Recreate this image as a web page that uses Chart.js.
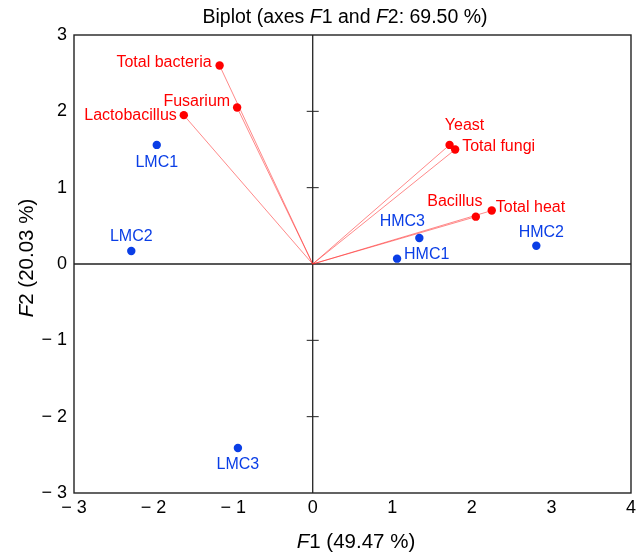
<!DOCTYPE html>
<html><head><meta charset="utf-8">
<script src="https://cdn.jsdelivr.net/npm/chart.js@4.4.1/dist/chart.umd.min.js"></script>
<style>html,body{margin:0;padding:0;background:#fff}#wrap{width:640px;height:553px}</style>
</head><body><div id="wrap"><canvas id="c" width="640" height="553"></canvas></div>
<script>
// ---- data ----
const obsNames = ['LMC1','LMC2','LMC3','HMC1','HMC2','HMC3'];
const obsF1 = [-1.96, -2.28, -0.94, 1.06, 2.81, 1.34];
const obsF2 = [1.56, 0.17, -2.41, 0.07, 0.24, 0.34];
const varNames = ['Total bacteria','Fusarium','Lactobacillus','Yeast','Total fungi','Bacillus','Total heat'];
const varF1 = [-1.17, -0.95, -1.62, 1.72, 1.79, 2.05, 2.25];
const varF2 = [2.60, 2.05, 1.95, 1.56, 1.50, 0.62, 0.70];
const xTicks = [-3,-2,-1,0,1,2,3,4];
const yTicks = [-3,-2,-1,0,1,2,3];

// ---- label placement (style) ----
const obsLabelPos = {LMC1:[0,18,'center'],LMC2:[0,-14,'center'],LMC3:[0,17,'center'],HMC1:[7,-4,'left'],HMC2:[5,-13,'center'],HMC3:[-17,-16,'center']};
const varLabelPos = {'Total bacteria':[-8,-3,'right'],'Fusarium':[-7,-6,'right'],'Lactobacillus':[-7,0,'right'],'Yeast':[15,-19,'center'],'Total fungi':[7,-3,'left'],'Bacillus':[-21,-15,'center'],'Total heat':[4,-3,'left']};

const RED = '#ff0000', BLUE = '#0a3ee6';
const FONT = '"Liberation Sans", Arial, Helvetica, sans-serif';

const datasets = [];
varNames.forEach((n,i)=>{
  datasets.push({label:n+' vector', data:[{x:0,y:0},{x:varF1[i],y:varF2[i]}], showLine:true,
    borderColor:'rgba(255,40,40,0.55)', borderWidth:1, pointRadius:0, order:5});
});
datasets.push({label:'Variables', data:varF1.map((x,i)=>({x,y:varF2[i]})), backgroundColor:RED, borderColor:RED, pointRadius:4.2, borderWidth:0, order:1});
datasets.push({label:'Observations', data:obsF1.map((x,i)=>({x,y:obsF2[i]})), backgroundColor:BLUE, borderColor:BLUE, pointRadius:4.2, borderWidth:0, order:1});

function drawMixed(ctx, parts, x, y, size, align){
  let w=0;
  parts.forEach(p=>{ctx.font=(p[1]?'italic ':'')+size+'px '+FONT; w+=ctx.measureText(p[0]).width;});
  let cx = align==='center'? x-w/2 : x;
  ctx.textAlign='left';
  parts.forEach(p=>{ctx.font=(p[1]?'italic ':'')+size+'px '+FONT; ctx.fillText(p[0],cx,y); cx+=ctx.measureText(p[0]).width;});
}

const deco = {
  id:'deco',
  beforeDatasetsDraw(chart){
    const {ctx, chartArea:a, scales:{x,y}} = chart;
    ctx.save();
    ctx.strokeStyle='#222'; ctx.lineWidth=1.4;
    ctx.strokeRect(a.left, a.top, a.right-a.left, a.bottom-a.top);
    const x0=x.getPixelForValue(0), y0=y.getPixelForValue(0);
    ctx.lineWidth=1.3;
    ctx.beginPath(); ctx.moveTo(x0,a.top); ctx.lineTo(x0,a.bottom); ctx.moveTo(a.left,y0); ctx.lineTo(a.right,y0); ctx.stroke();
    ctx.lineWidth=1;
    ctx.beginPath();
    yTicks.forEach(v=>{ if(v===0||v===3||v===-3) return; const py=y.getPixelForValue(v); ctx.moveTo(x0-6,py); ctx.lineTo(x0+6,py);});
    ctx.stroke();
    ctx.restore();
  },
  afterDatasetsDraw(chart){
    const {ctx, scales:{x,y}} = chart;
    ctx.save();
    ctx.textBaseline='middle';
    ctx.font='16px '+FONT;
    ctx.fillStyle=RED;
    varNames.forEach((n,i)=>{const p=varLabelPos[n]; ctx.textAlign=p[2];
      ctx.fillText(n, x.getPixelForValue(varF1[i])+p[0], y.getPixelForValue(varF2[i])+p[1]);});
    ctx.fillStyle=BLUE;
    obsNames.forEach((n,i)=>{const p=obsLabelPos[n]; ctx.textAlign=p[2];
      ctx.fillText(n, x.getPixelForValue(obsF1[i])+p[0], y.getPixelForValue(obsF2[i])+p[1]);});
    // title and axis titles
    ctx.fillStyle='#000';
    drawMixed(ctx, [['Biplot (axes ',0],['F',1],['1 and ',0],['F',1],['2: 69.50 %)',0]], 345, 18, 19.5, 'center');
    drawMixed(ctx, [['F',1],['1 (49.47 %)',0]], 356, 542, 20.5, 'center');
    ctx.translate(27, 258); ctx.rotate(-Math.PI/2);
    drawMixed(ctx, [['F',1],['2 (20.03 %)',0]], 0, 0, 20.5, 'center');
    ctx.restore();
  }
};

const tickFmt = v => v<0 ? '\u2212 '+Math.abs(v) : String(v);

new Chart(document.getElementById('c'), {
  type:'scatter',
  data:{datasets},
  options:{
    responsive:false, animation:false, devicePixelRatio:1,
    layout:{padding:{top:35,right:9,left:0,bottom:0}},
    plugins:{legend:{display:false}, tooltip:{enabled:false}, title:{display:false}},
    scales:{
      x:{type:'linear', min:-3, max:4, grid:{display:false, drawTicks:false}, border:{display:false},
         afterBuildTicks:s=>{s.ticks=xTicks.map(v=>({value:v}));},
         afterFit:s=>{s.height=60;},
         ticks:{color:'#000', font:{size:18, family:FONT}, padding:4, callback:tickFmt, maxRotation:0, autoSkip:false}},
      y:{type:'linear', min:-3, max:3, grid:{display:false, drawTicks:false}, border:{display:false},
         afterBuildTicks:s=>{s.ticks=yTicks.map(v=>({value:v}));},
         afterFit:s=>{s.width=74;},
         ticks:{color:'#000', font:{size:18, family:FONT}, padding:7, callback:tickFmt, autoSkip:false}}
    }
  },
  plugins:[deco]
});
</script></body></html>
